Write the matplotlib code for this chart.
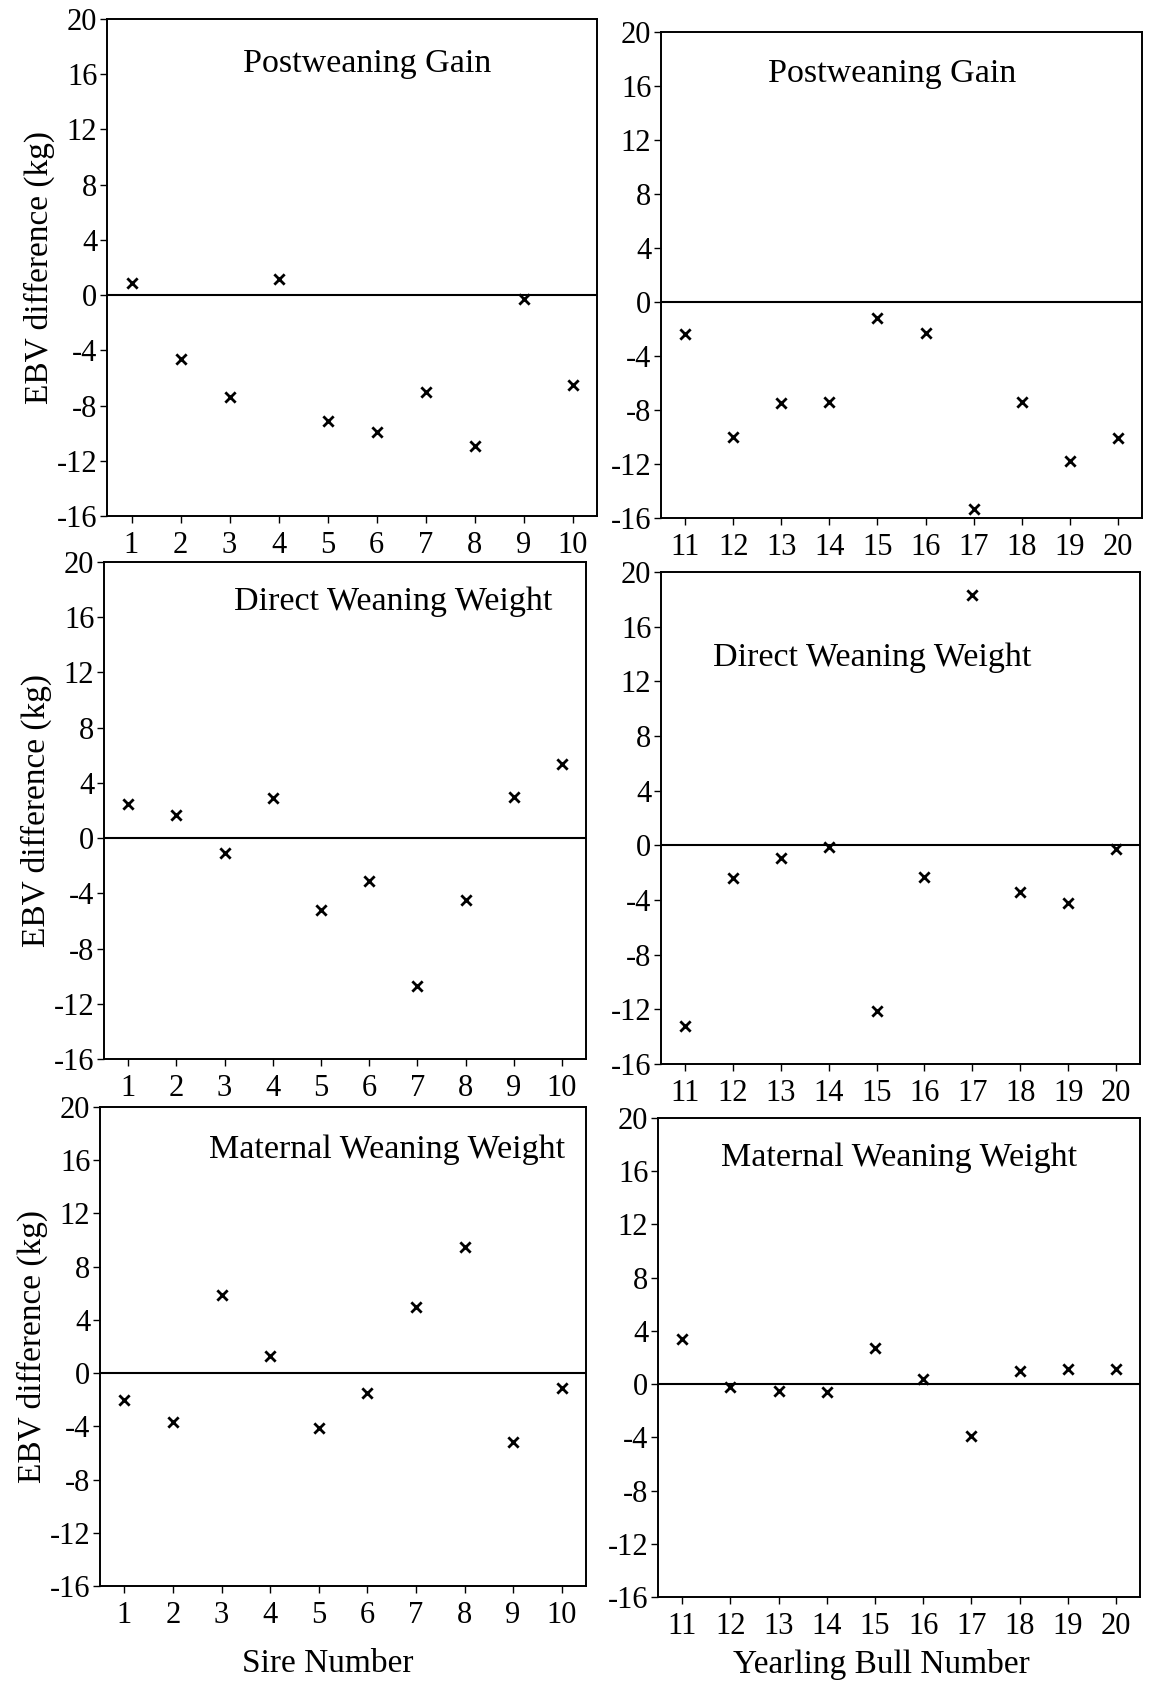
import matplotlib
matplotlib.use("Agg")
import matplotlib.pyplot as plt
import numpy as np

# --- data (EBV differences, kg) ---
sires = list(range(1, 11))
bulls = list(range(11, 21))

postweaning_sires = [0.9, -4.6, -7.4, 1.2, -9.1, -9.9, -7.0, -10.9, -0.3, -6.5]
postweaning_bulls = [-2.4, -10.0, -7.5, -7.4, -1.2, -2.3, -15.3, -7.4, -11.8, -10.1]

direct_sires = [2.5, 1.7, -1.1, 2.9, -5.2, -3.1, -10.7, -4.5, 3.0, 5.4]
direct_bulls = [-13.2, -2.4, -0.9, -0.1, -12.1, -2.3, 18.3, -3.4, -4.2, -0.3]

maternal_sires = [-2.0, -3.7, 5.9, 1.3, -4.1, -1.5, 5.0, 9.5, -5.2, -1.1]
maternal_bulls = [3.4, -0.2, -0.5, -0.6, 2.7, 0.4, -3.9, 1.0, 1.1, 1.1]

titles = ["Postweaning Gain", "Direct Weaning Weight", "Maternal Weaning Weight"]
y_ticks = [-16, -12, -8, -4, 0, 4, 8, 12, 16, 20]

plt.rcParams["font.family"] = ["Liberation Serif", "DejaVu Serif"]
plt.rcParams["axes.unicode_minus"] = False

W, H = 1160, 1686
fig = plt.figure(figsize=(W / 100, H / 100), dpi=100)


def rect(l, t, r, b):
    # pixel box -> figure fraction
    return [l / W, 1 - b / H, (r - l) / W, (b - t) / H]


# panel boxes in pixels (left, top, right, bottom), title position in axes coords
panels = [
    (rect(107, 19, 597, 516), sires, postweaning_sires, titles[0], (0.53, 0.91)),
    (rect(661, 32, 1142, 518), bulls, postweaning_bulls, titles[0], (0.48, 0.915)),
    (rect(104, 562, 586, 1059), sires, direct_sires, titles[1], (0.60, 0.92)),
    (rect(661, 572, 1140, 1064), bulls, direct_bulls, titles[1], (0.44, 0.825)),
    (rect(100, 1107, 586, 1586), sires, maternal_sires, titles[2], (0.59, 0.91)),
    (rect(658, 1118, 1140, 1597), bulls, maternal_bulls, titles[2], (0.50, 0.916)),
]

for i, (box, xs, ys, title, tpos) in enumerate(panels):
    ax = fig.add_axes(box)
    ax.scatter(xs, ys, marker="x", s=55, color="black", linewidths=2.0, zorder=3)
    ax.axhline(0, color="black", lw=1.5)
    ax.set_ylim(-16, 20)
    ax.set_xlim(xs[0] - 0.5, xs[-1] + 0.5)
    ax.set_yticks(y_ticks)
    ax.set_xticks(xs)
    ax.tick_params(axis="both", direction="out", length=5, width=1.0,
                   labelsize=22, pad=2)
    ax.tick_params(axis="x", pad=6)
    for sp in ax.spines.values():
        sp.set_linewidth(1.4)
    ax.text(tpos[0], tpos[1], title, transform=ax.transAxes, ha="center",
            va="center", fontsize=24.5)
    if i % 2 == 0:
        ax.set_ylabel("EBV difference (kg)", fontsize=24, labelpad=1)

fig.text(328 / W, 1 - 1664 / H, "Sire Number", ha="center", va="center", fontsize=24)
fig.text(881 / W, 1 - 1664 / H, "Yearling Bull Number", ha="center", va="center",
         fontsize=24)

fig.savefig("out.png", dpi=100, facecolor="white")
